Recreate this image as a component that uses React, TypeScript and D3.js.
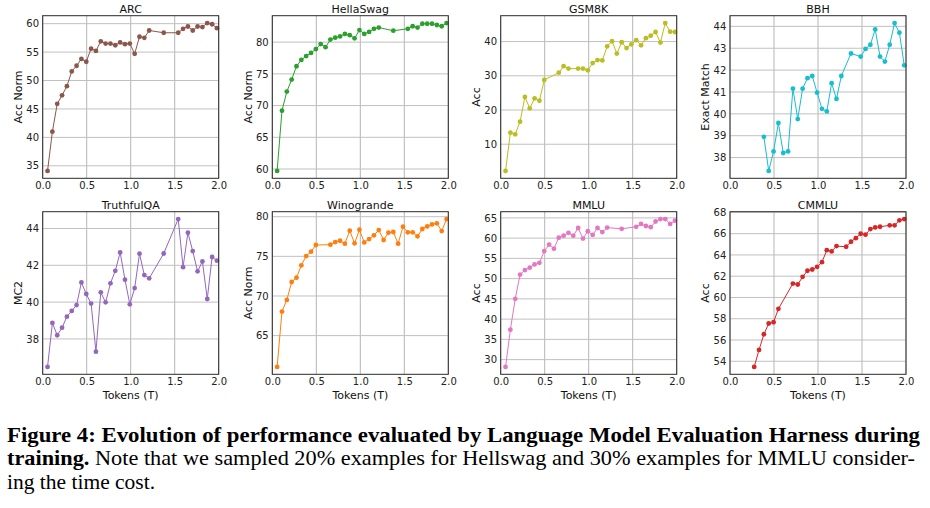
import React, { useEffect, useRef } from 'react';
import * as d3 from 'd3';

// checkpoints (trillions of tokens)
const tokens = [
  0.055, 0.11, 0.165, 0.22, 0.275, 0.33, 0.385, 0.44, 0.495, 0.55, 0.605, 0.66,
  0.715, 0.77, 0.825, 0.88, 0.935, 0.99, 1.045, 1.1, 1.155, 1.21, 1.265, 1.32,
  1.375, 1.43, 1.485, 1.54, 1.595, 1.65, 1.705, 1.76, 1.815, 1.87, 1.925, 1.98,
];

// null = checkpoint not evaluated
const arc = [
  34.1, 41.0, 45.9, 47.4, 49.0, 51.6, 52.6, 53.8, 53.3, 55.6, 55.2, 56.9,
  56.5, 56.5, 56.2, 56.7, 56.4, 56.5, 54.7, 57.7, 57.5, 58.8, null, null,
  58.4, null, null, 58.4, 59.1, 59.5, 58.8, 59.5, 59.4, 60.1, 59.9, 59.2,
];
const hellaswag = [
  59.7, 69.2, 72.2, 74.1, 76.2, 77.2, 77.8, 78.3, 78.9, 79.7, 79.2, 80.4,
  80.7, 80.9, 81.3, 81.1, 80.6, 81.9, 81.3, 81.6, 82.1, 82.3, null, null,
  81.8, null, null, 82.1, 82.5, 82.3, 82.9, 82.9, 82.9, 82.7, 82.5, 83.0,
];
const gsm8k = [
  2.2, 13.4, 12.9, 16.6, 23.8, 20.5, 23.4, 22.7, 28.8, null, null, 30.9,
  32.8, 32.1, null, 32.1, 32.1, 31.6, 33.7, 34.6, 34.5, 38.6, 40.1, 36.5,
  39.8, 38.1, 39.2, 40.4, 38.9, 41.0, 41.7, 42.8, 39.7, 45.4, 42.9, 42.8,
];
const bbh = [
  null, null, null, null, null, null, 38.95, 37.39, 38.28, 39.58, 38.21, 38.28,
  41.15, 39.76, 41.15, 41.63, 41.73, 40.97, 40.23, 40.11, 41.4, 40.68, 41.73, null,
  42.76, null, 42.62, 42.97, 43.16, 43.86, 42.62, 42.39, 43.16, 44.15, 43.71, 42.22,
];
const truthfulqa = [
  36.48, 38.87, 38.2, 38.61, 39.21, 39.52, 39.84, 41.07, 40.44, 39.92, 37.31, 40.53,
  39.99, 41.02, 41.7, 42.7, 41.22, 39.88, 40.76, 42.63, 41.47, 41.29, null, null,
  42.64, null, null, 44.51, 41.9, 43.77, 42.77, 41.67, 42.21, 40.17, 42.45, 42.25,
];
const winogrande = [
  61.05, 68.03, 69.5, 71.76, 72.31, 73.87, 75.04, 75.59, 76.43, null, null, 76.47,
  76.8, 76.97, 76.6, 78.24, 76.64, 78.36, 76.76, 77.18, 77.65, 78.32, 77.06, 77.98,
  78.07, 76.6, 78.74, 78.03, 78.03, 77.52, 78.45, 78.78, 79.03, 79.16, 78.19, 79.7,
];
const mmlu = [
  28.2, 37.4, 45.0, 51.0, 52.1, 52.7, 53.5, 53.9, 56.8, 58.4, 57.4, 60.1,
  60.6, 61.3, 60.6, 62.5, 59.9, 61.7, 60.8, 62.5, 61.5, 62.6, null, null,
  62.3, null, null, 62.8, 63.5, 63.0, 62.7, 64.1, 64.7, 64.7, 63.5, 64.3,
];
const cmmlu = [
  null, null, null, null, 53.47, 55.07, 56.54, 57.55, 57.67, 58.93, null, null,
  61.31, 61.22, 61.94, 62.51, 62.63, 62.88, 63.32, 64.45, 64.33, 64.83, null, 64.77,
  65.24, 65.58, 65.99, 65.9, 66.43, 66.59, 66.65, null, 66.78, 66.78, 67.25, 67.37,
];

const xTicks = [0, 0.5, 1, 1.5, 2];
const arcTicks = [35, 40, 45, 50, 55, 60];
const hellaTicks = [60, 65, 70, 75, 80];
const gsmTicks = [10, 20, 30, 40];
const bbhTicks = [38, 39, 40, 41, 42, 43, 44];
const tqaTicks = [38, 40, 42, 44];
const winoTicks = [65, 70, 75, 80];
const mmluTicks = [30, 35, 40, 45, 50, 55, 60, 65];
const cmmluTicks = [54, 56, 58, 60, 62, 64, 66, 68];

const panels = [
  { title: 'ARC', ylabel: 'Acc Norm', values: arc, ticks: arcTicks, color: '#8c564b' },
  { title: 'HellaSwag', ylabel: 'Acc Norm', values: hellaswag, ticks: hellaTicks, color: '#2ca02c' },
  { title: 'GSM8K', ylabel: 'Acc', values: gsm8k, ticks: gsmTicks, color: '#bcbd22' },
  { title: 'BBH', ylabel: 'Exact Match', values: bbh, ticks: bbhTicks, color: '#17becf' },
  { title: 'TruthfulQA', ylabel: 'MC2', values: truthfulqa, ticks: tqaTicks, color: '#9467bd' },
  { title: 'Winogrande', ylabel: 'Acc Norm', values: winogrande, ticks: winoTicks, color: '#ff7f0e' },
  { title: 'MMLU', ylabel: 'Acc', values: mmlu, ticks: mmluTicks, color: '#e377c2' },
  { title: 'CMMLU', ylabel: 'Acc', values: cmmlu, ticks: cmmluTicks, color: '#d62728' },
];

const colLeft = [42.7, 272.3, 500.7, 730];
const rowTop = [15.7, 211.7];
const pw = 176;
const ph = 162.6;
const FONT = '"DejaVu Sans", sans-serif';

export default function App() {
  const ref = useRef<SVGSVGElement>(null);

  useEffect(() => {
    const svg = d3.select(ref.current);
    svg.selectAll('*').remove();

    panels.forEach((p, i) => {
      const left = colLeft[i % 4];
      const top = rowTop[Math.floor(i / 4)];
      const bottomRow = i >= 4;

      const pts = p.values
        .map((v, j) => ({ t: tokens[j], v }))
        .filter(d => d.v != null) as { t: number; v: number }[];
      const [lo, hi] = d3.extent(pts, d => d.v) as [number, number];
      const pad = (hi - lo) * 0.05;

      const x = d3.scaleLinear().domain([0, 2]).range([0, pw]);
      const y = d3.scaleLinear().domain([lo - pad, hi + pad]).range([ph, 0]);

      const g = svg.append('g').attr('transform', `translate(${left},${top})`);

      // grid
      g.append('g')
        .selectAll('line')
        .data(xTicks)
        .join('line')
        .attr('x1', d => x(d))
        .attr('x2', d => x(d))
        .attr('y1', 0)
        .attr('y2', ph)
        .attr('stroke', '#b5b5b5')
        .attr('stroke-width', 1);
      g.append('g')
        .selectAll('line')
        .data(p.ticks)
        .join('line')
        .attr('x1', 0)
        .attr('x2', pw)
        .attr('y1', d => y(d))
        .attr('y2', d => y(d))
        .attr('stroke', '#c0c0c0')
        .attr('stroke-width', 1);

      // series
      const line = d3
        .line<{ t: number; v: number }>()
        .x(d => x(d.t))
        .y(d => y(d.v));
      g.append('path')
        .datum(pts)
        .attr('d', line)
        .attr('fill', 'none')
        .attr('stroke', p.color)
        .attr('stroke-width', 1);
      g.append('g')
        .selectAll('circle')
        .data(pts)
        .join('circle')
        .attr('cx', d => x(d.t))
        .attr('cy', d => y(d.v))
        .attr('r', 2.4)
        .attr('fill', p.color);

      // spines
      g.append('rect')
        .attr('width', pw)
        .attr('height', ph)
        .attr('fill', 'none')
        .attr('stroke', '#2a2a2a')
        .attr('stroke-width', 1);

      // axes
      const xAxis = g
        .append('g')
        .attr('transform', `translate(0,${ph})`)
        .call(d3.axisBottom(x).tickValues(xTicks).tickFormat(d3.format('.1f')).tickSize(0).tickPadding(3.6));
      const yAxis = g
        .append('g')
        .call(d3.axisLeft(y).tickValues(p.ticks).tickFormat(d3.format('d')).tickSize(0).tickPadding(3.7));
      [xAxis, yAxis].forEach(a => {
        a.select('.domain').remove();
        a.attr('font-family', FONT).attr('font-size', 10);
        a.selectAll('text').attr('fill', '#222');
      });

      g.append('text')
        .attr('x', pw / 2)
        .attr('y', -3.2)
        .attr('text-anchor', 'middle')
        .attr('font-family', FONT)
        .attr('font-size', 11)
        .attr('fill', '#111')
        .text(p.title);

      g.append('text')
        .attr('transform', `translate(-20.7,${ph / 2}) rotate(-90)`)
        .attr('text-anchor', 'middle')
        .attr('font-family', FONT)
        .attr('font-size', 11)
        .attr('fill', '#111')
        .text(p.ylabel);

      if (bottomRow) {
        g.append('text')
          .attr('x', pw / 2)
          .attr('y', ph + 25)
          .attr('text-anchor', 'middle')
          .attr('font-family', FONT)
          .attr('font-size', 11)
          .attr('fill', '#111')
          .text('Tokens (T)');
      }
    });

    // caption
    const cap = svg
      .append('g')
      .attr('font-family', '"Liberation Serif", "Times New Roman", serif')
      .attr('font-size', 21.5)
      .attr('fill', '#000');
    cap.append('text')
      .attr('x', 7)
      .attr('y', 441.5)
      .attr('font-weight', 'bold')
      .attr('textLength', 913)
      .attr('lengthAdjust', 'spacingAndGlyphs')
      .text('Figure 4: Evolution of performance evaluated by Language Model Evaluation Harness during');
    const l2 = cap
      .append('text')
      .attr('x', 7)
      .attr('y', 465.4)
      .attr('textLength', 908)
      .attr('lengthAdjust', 'spacingAndGlyphs');
    l2.append('tspan').attr('font-weight', 'bold').text('training.');
    l2.append('tspan').text(' Note that we sampled 20% examples for Hellswag and 30% examples for MMLU consider-');
    cap.append('text').attr('x', 7).attr('y', 489.3).text('ing the time cost.');
  }, []);

  return (
    <div style={{ position: 'absolute', left: 0, top: 0 }}>
      <svg ref={ref} width={930} height={508} style={{ display: 'block', background: '#fff' }} />
    </div>
  );
}
